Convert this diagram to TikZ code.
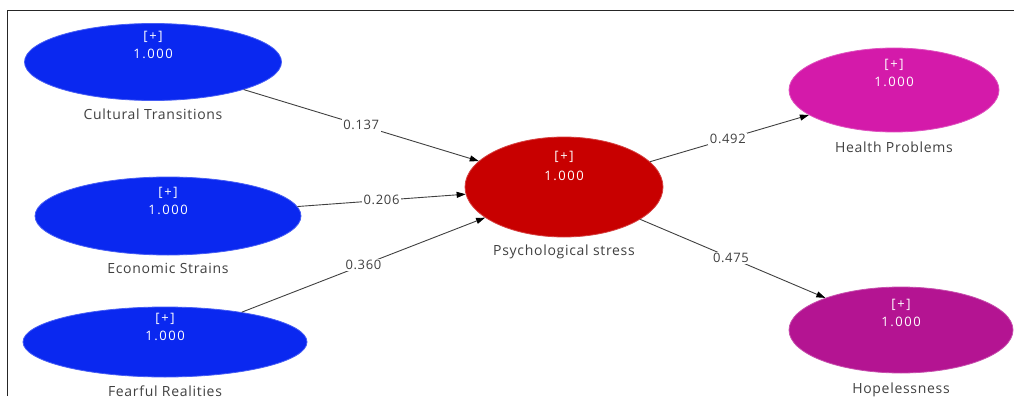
\documentclass[tikz,border=0pt]{standalone}
\usepackage{fontspec}
\setmainfont{Open Sans}
\usetikzlibrary{shapes.geometric,arrows.meta,positioning}
\definecolor{exoblue}{RGB}{10,40,240}
\definecolor{stressred}{RGB}{200,0,0}
\definecolor{healthpink}{RGB}{212,26,170}
\definecolor{hopepurple}{RGB}{180,20,146}
\definecolor{labelgray}{RGB}{64,64,64}

\begin{document}
\begin{tikzpicture}[x=1pt,y=-1pt,
  latent/.style={ellipse,inner sep=0pt,draw=#1!75!white,line width=0.8pt,fill=#1},
  inside/.style={text=white,font=\fontsize{13}{15}\selectfont\addfontfeatures{LetterSpace=12},align=center,inner sep=0pt},
  varname/.style={text=labelgray,font=\fontsize{14}{16}\selectfont\addfontfeatures{LetterSpace=5},inner sep=0pt},
  path/.style={draw=labelgray,line width=0.9pt,-{Triangle[length=9pt,width=6pt,color=black]}},
  coef/.style={fill=white,text=labelgray,font=\fontsize{13}{15}\selectfont\addfontfeatures{LetterSpace=5},inner sep=1.5pt}]
\useasboundingbox (0,0) rectangle (1014,396);
\draw [line width=1pt,black!85] (7,396) -- (7,11) -- (1014,11);
% constructs
\node (ct) [latent=exoblue,minimum width=257pt,minimum height=77pt] at (153,62) {};
\node (es) [latent=exoblue,minimum width=266pt,minimum height=78pt] at (168,216) {};
\node (fr) [latent=exoblue,minimum width=284pt,minimum height=70pt] at (165,342) {};
\node (ps) [latent=stressred,minimum width=198pt,minimum height=100pt] at (564,187) {};
\node (hp) [latent=healthpink,minimum width=210pt,minimum height=84pt] at (894,90) {};
\node (hl) [latent=hopepurple,minimum width=224pt,minimum height=86pt] at (901,330) {};
% values inside
\node (cti) [inside] at (153,45) {[+]\\[3pt]1.000};
\node (esi) [inside] at (168,201) {[+]\\[3pt]1.000};
\node (fri) [inside] at (165,327) {[+]\\[3pt]1.000};
\node (psi) [inside] at (564,166) {[+]\\[5pt]1.000};
\node (hpi) [inside] at (894,73) {[+]\\[3pt]1.000};
\node (hli) [inside] at (901,313) {[+]\\[3pt]1.000};
% names
\node (ctn) [varname,below=8pt of ct] {Cultural Transitions};
\node (esn) [varname,below=8pt of es] {Economic Strains};
\node (frn) [varname,below=8pt of fr] {Fearful Realities};
\node (psn) [varname,below=7pt of ps] {Psychological stress};
\node (hpn) [varname,below=9pt of hp] {Health Problems};
\node (hln) [varname,below=9pt of hl] {Hopelessness};
% paths
\draw [path] (ct) -- node[coef] {0.137} (ps);
\draw [path] (es) -- node[coef] {0.206} (ps);
\draw [path] (fr) -- node[coef] {0.360} (ps);
\draw [path] (ps) -- node[coef,pos=0.49] {0.492} (hp);
\draw [path] (ps) -- node[coef,pos=0.49] {0.475} (hl);
\end{tikzpicture}
\end{document}
